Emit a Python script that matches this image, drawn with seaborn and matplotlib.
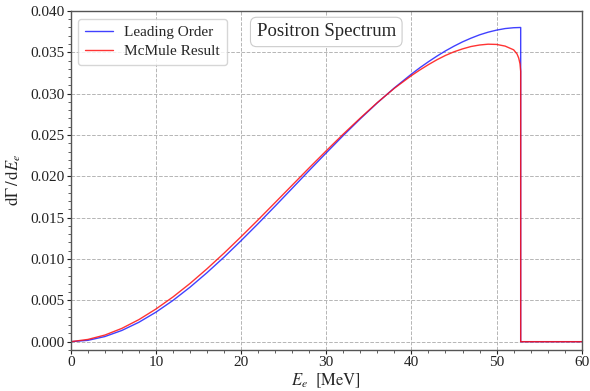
import matplotlib
matplotlib.use("Agg")
import matplotlib.pyplot as plt
import pandas as pd
import seaborn as sns
from matplotlib.ticker import AutoMinorLocator

# positron energy grid (MeV)
energy_lo = [0, 2, 4, 6, 8, 10, 12, 14, 16, 18, 20, 22, 24, 26, 28, 30,
             32, 34, 36, 38, 40, 41, 42, 43, 44, 45, 46, 47, 48, 49, 50,
             51, 52, 52.83, 52.83, 60]
rate_lo = [0.0, 0.00016, 0.00062, 0.00136, 0.00235, 0.00357, 0.00499,
           0.00659, 0.00835, 0.01023, 0.01222, 0.01428, 0.01640, 0.01855,
           0.02071, 0.02284, 0.02494, 0.02696, 0.02889, 0.03070, 0.03236,
           0.03314, 0.03386, 0.03454, 0.03517, 0.03574, 0.03626, 0.03671,
           0.03711, 0.03743, 0.03768, 0.03787, 0.03797, 0.03800, 0.0, 0.0]

energy_nlo = [0, 2, 4, 6, 8, 10, 12, 14, 16, 18, 20, 22, 24, 26, 28, 30,
              32, 34, 36, 38, 40, 41, 42, 43, 44, 45, 46, 47, 48, 49, 50,
              51, 52, 52.4, 52.6, 52.75, 52.83, 52.83, 60]
rate_nlo = [0.0, 0.00027, 0.00080, 0.00161, 0.00267, 0.00395, 0.00541,
            0.00704, 0.00882, 0.01071, 0.01270, 0.01474, 0.01683, 0.01893,
            0.02103, 0.02309, 0.02511, 0.02705, 0.02892, 0.03065, 0.03218,
            0.03287, 0.03351, 0.03410, 0.03462, 0.03506, 0.03541, 0.03570,
            0.03588, 0.03598, 0.03595, 0.03575, 0.03530, 0.03480, 0.03430,
            0.03360, 0.03270, 0.0, 0.0]

series_names = ["Leading Order", "McMule Result"]

df = pd.concat([
    pd.DataFrame({"E": energy_lo, "rate": rate_lo, "series": series_names[0]}),
    pd.DataFrame({"E": energy_nlo, "rate": rate_nlo, "series": series_names[1]}),
], ignore_index=True)

sns.set_style("ticks")
plt.rcParams["font.family"] = ["Liberation Serif", "DejaVu Serif"]
plt.rcParams["mathtext.fontset"] = "stix"

fig = plt.figure(figsize=(5.9, 3.91), dpi=100)
ax = fig.add_axes([0.120, 0.105, 0.866, 0.867])

sns.lineplot(data=df, x="E", y="rate", hue="series", sort=False,
             estimator=None, palette={series_names[0]: "#2020ff",
                                      series_names[1]: "#ff1010"},
             linewidth=1.0, alpha=0.85, ax=ax)

ax.set_xlim(0, 60)
ax.set_ylim(-0.001, 0.040)
ax.set_yticks([0.0, 0.005, 0.010, 0.015, 0.020, 0.025, 0.030, 0.035, 0.040])
ax.set_yticklabels([f"{v:.3f}" for v in ax.get_yticks()])
ax.xaxis.set_minor_locator(AutoMinorLocator(5))
ax.yaxis.set_minor_locator(AutoMinorLocator(5))
ax.tick_params(which="major", length=3, width=0.8, labelsize=11,
               colors="#222222", pad=1.5)
ax.tick_params(which="minor", length=2, width=0.6, colors="#444444")

ax.grid(True, which="major", ls="--", lw=0.7, color="#b5b5b5")
for s in ax.spines.values():
    s.set_color("#555555")
    s.set_linewidth(1.0)

ax.set_xlabel(r"$E_e\ \ [\mathrm{MeV}]$", fontsize=12, labelpad=2)
ax.set_ylabel(r"$\mathrm{d}\Gamma\,/\,\mathrm{d}E_e$", fontsize=12)
ax.yaxis.set_label_coords(-0.094, 0.5)

leg = ax.legend(loc="upper left", fontsize=11, frameon=True, fancybox=True,
                handlelength=1.8, handletextpad=0.75, borderpad=0.45,
                labelspacing=0.35)
leg.get_frame().set_edgecolor("#cccccc")

ax.text(0.50, 0.938, "Positron Spectrum", transform=ax.transAxes,
        ha="center", va="center", fontsize=13.5,
        bbox=dict(boxstyle="round,pad=0.33", fc="white", ec="#cccccc", lw=0.8))

fig.savefig("out.png", dpi=100)
